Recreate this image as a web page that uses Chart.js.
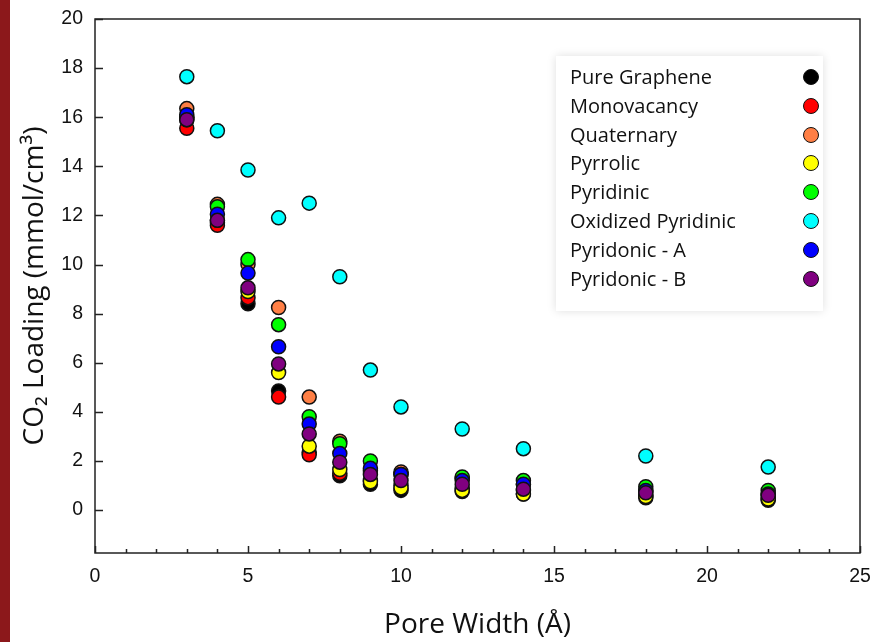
<!DOCTYPE html>
<html>
<head>
<meta charset="utf-8">
<script src="https://cdn.jsdelivr.net/npm/chart.js@4.4.1/dist/chart.umd.min.js"></script>
<style>
    html, body { margin: 0; padding: 0; background: #fff; }
    #wrap { position: relative; width: 874px; height: 642px; overflow: hidden; }
    #stripe { position: absolute; left: 0; top: 0; width: 10px; height: 642px; background: #8c181b; }
    #chart { position: absolute; left: 0; top: 0; }
    #legend {
        position: absolute; left: 556px; top: 56px; width: 267px; height: 255px;
        background: #fff; box-shadow: 0 0 9px rgba(0,0,0,.13);
        font-family: "Open Sans", sans-serif; font-size: 20px; color: #111;
    }
    .row { position: absolute; left: 14px; right: 0; height: 28px; line-height: 28px; white-space: nowrap; }
    .dot { position: absolute; left: 233px; top: 6px; width: 14px; height: 14px; border: 1.5px solid #111; border-radius: 50%; }
</style>
</head>
<body>
<div id="wrap">
    <canvas id="chart" width="874" height="642"></canvas>
    <div id="stripe"></div>
    <div id="legend"></div>
</div>
<script>
// Data
const poreWidth = [3, 4, 5, 6, 7, 8, 9, 10, 12, 14, 18, 22];

const pureGraphene      = [16.0, 11.7, 8.4, 4.85, 2.35, 1.4, 1.05, 0.8, 0.75, 0.65, 0.5, 0.4];
const monovacancy       = [15.55, 11.6, 8.65, 4.6, 2.25, 1.5, 1.2, 1.0, 0.9, 0.8, 0.6, 0.5];
const quaternary        = [16.35, 12.45, 10.0, 8.25, 4.6, 2.8, 1.6, 1.55, 1.3, 1.05, 0.75, 0.65];
const pyrrolic          = [15.9, 11.8, 8.9, 5.6, 2.6, 1.65, 1.15, 0.9, 0.8, 0.65, 0.55, 0.45];
const pyridinic         = [16.0, 12.35, 10.2, 7.55, 3.8, 2.7, 2.0, 1.45, 1.35, 1.2, 0.95, 0.8];
const oxidizedPyridinic = [17.65, 15.45, 13.85, 11.9, 12.5, 9.5, 5.7, 4.2, 3.3, 2.5, 2.2, 1.75];
const pyridonicA        = [16.1, 12.05, 9.65, 6.65, 3.5, 2.3, 1.7, 1.45, 1.2, 1.05, 0.8, 0.65];
const pyridonicB        = [15.9, 11.8, 9.05, 5.95, 3.1, 1.95, 1.45, 1.2, 1.05, 0.85, 0.7, 0.6];

const seriesNames = ["Pure Graphene", "Monovacancy", "Quaternary", "Pyrrolic", "Pyridinic",
    "Oxidized Pyridinic", "Pyridonic - A", "Pyridonic - B"];
const seriesValues = [pureGraphene, monovacancy, quaternary, pyrrolic, pyridinic,
    oxidizedPyridinic, pyridonicA, pyridonicB];
const seriesColors = ["#000000", "#ff0000", "#ff7f45", "#ffff00", "#00ff00", "#00ffff", "#0000ff", "#800080"];

const xTicks = [0, 5, 10, 15, 20, 25];
const yTicks = [0, 2, 4, 6, 8, 10, 12, 14, 16, 18, 20];

// HTML legend (labels left, markers right)
const legend = document.getElementById("legend");
seriesNames.forEach((name, i) => {
    const row = document.createElement("div");
    row.className = "row";
    row.style.top = (7 + i * 28.8) + "px";
    row.textContent = name;
    const dot = document.createElement("span");
    dot.className = "dot";
    dot.style.background = seriesColors[i];
    row.appendChild(dot);
    legend.appendChild(row);
});

// box + inward tick marks
const frame = {
    id: "frame",
    afterDraw(chart) {
        const { ctx, chartArea: a, scales: { x, y } } = chart;
        ctx.save();
        ctx.strokeStyle = "#222";
        ctx.lineWidth = 1.5;
        ctx.strokeRect(a.left, a.top, a.right - a.left, a.bottom - a.top);
        ctx.beginPath();
        for (let v = x.min; v <= x.max; v++) {
            const px = Math.round(x.getPixelForValue(v)) + 0.5;
            const len = xTicks.includes(v) ? 7 : 4;
            ctx.moveTo(px, a.bottom);
            ctx.lineTo(px, a.bottom - len);
        }
        yTicks.forEach(v => {
            const py = Math.round(y.getPixelForValue(v)) + 0.5;
            ctx.moveTo(a.left, py);
            ctx.lineTo(a.left + 8, py);
        });
        ctx.stroke();
        ctx.restore();
    }
};

const tickFont = { family: "'Liberation Sans', Arial, sans-serif", size: 19.5 };

new Chart(document.getElementById("chart"), {
    type: "scatter",
    data: {
        datasets: seriesNames.map((name, i) => ({
            label: name,
            data: poreWidth.map((w, j) => ({ x: w, y: seriesValues[i][j] })),
            backgroundColor: seriesColors[i],
            borderColor: "#111",
            borderWidth: 1.5,
            pointRadius: 7,
            order: seriesNames.length - i,
        })),
    },
    options: {
        responsive: false,
        animation: false,
        layout: { padding: { top: 19, right: 14, left: 0, bottom: 0 } },
        plugins: {
            legend: { display: false },
            tooltip: { enabled: false },
        },
        scales: {
            x: {
                type: "linear",
                min: 0,
                max: 25,
                grid: { display: false, drawTicks: false },
                border: { display: false },
                afterBuildTicks: (s) => { s.ticks = xTicks.map(v => ({ value: v })); },
                afterFit: (s) => { s.height = 89; s.paddingLeft = 0; s.paddingRight = 0; },
                ticks: { font: tickFont, color: "#111", padding: 12, maxRotation: 0 },
                title: {
                    display: true,
                    text: "Pore Width (Å)",
                    color: "#111",
                    font: { family: "'Open Sans', sans-serif", size: 28 },
                    padding: { top: 0, bottom: 0 },
                },
            },
            y: {
                type: "linear",
                min: -1.75,
                max: 20,
                grid: { display: false, drawTicks: false },
                border: { display: false },
                afterBuildTicks: (s) => { s.ticks = yTicks.map(v => ({ value: v })); },
                afterFit: (s) => { s.width = 95; s.paddingTop = 0; s.paddingBottom = 0; },
                ticks: { font: tickFont, color: "#111", padding: 12 },
                title: {
                    display: true,
                    text: "CO₂ Loading (mmol/cm³)",
                    color: "#111",
                    font: { family: "'Open Sans', sans-serif", size: 28 },
                    padding: { top: 18, bottom: 0 },
                },
            },
        },
    },
    plugins: [frame],
});
</script>
</body>
</html>
